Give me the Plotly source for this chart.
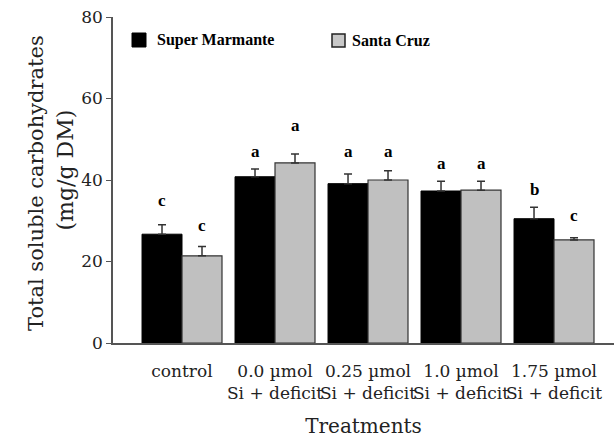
import plotly.graph_objects as go

treatments = ["control", "0.0 µmol<br>Si + deficit", "0.25 µmol<br>Si + deficit",
              "1.0 µmol<br>Si + deficit", "1.75 µmol<br>Si + deficit"]
super_marmante = [26.7, 40.8, 39.1, 37.3, 30.5]
super_marmante_err = [2.3, 1.9, 2.4, 2.4, 2.8]
santa_cruz = [21.4, 44.2, 40.0, 37.5, 25.3]
santa_cruz_err = [2.3, 2.2, 2.3, 2.2, 0.5]
letters_sm = ["c", "a", "a", "a", "b"]
letters_sc = ["c", "a", "a", "a", "c"]
letter_y_sm = [34.4, 46.4, 46.4, 43.5, 37.3]
letter_y_sc = [28.3, 52.8, 46.4, 43.5, 30.7]
y_ticks = [0, 20, 40, 60, 80]

SERIF = "DejaVu Serif"
BOLD = "Liberation Serif"
idx = list(range(len(treatments)))

fig = go.Figure()
fig.add_trace(go.Bar(
    x=idx, y=super_marmante, name="Super Marmante",
    marker=dict(color="#000000", line=dict(color="#000000", width=1)),
    error_y=dict(type="data", symmetric=False, array=super_marmante_err,
                 arrayminus=[0] * len(idx), color="#333333", thickness=1.5, width=4),
    showlegend=False,
))
fig.add_trace(go.Bar(
    x=idx, y=santa_cruz, name="Santa Cruz",
    marker=dict(color="#C0C0C0", line=dict(color="#333333", width=1.2)),
    error_y=dict(type="data", symmetric=False, array=santa_cruz_err,
                 arrayminus=[0] * len(idx), color="#333333", thickness=1.5, width=4),
    showlegend=False,
))

off = 0.215
ann = []
for i in idx:
    ann.append(dict(x=i - off, y=letter_y_sm[i], xref="x", yref="y", text="<b>%s</b>" % letters_sm[i],
                    showarrow=False, font=dict(family=BOLD, size=17, color="#000"), yshift=2))
    ann.append(dict(x=i + off, y=letter_y_sc[i], xref="x", yref="y", text="<b>%s</b>" % letters_sc[i],
                    showarrow=False, font=dict(family=BOLD, size=17, color="#000"), yshift=2))

# legend (manual)
ann.append(dict(x=155, y=40, xref="paper", yref="paper", text="<b>Super Marmante</b>",
                showarrow=False, xanchor="left", yanchor="middle",
                font=dict(family=BOLD, size=16, color="#000")))
ann.append(dict(x=350, y=40, xref="paper", yref="paper", text="<b>Santa Cruz</b>",
                showarrow=False, xanchor="left", yanchor="middle",
                font=dict(family=BOLD, size=16, color="#000")))

W, H = 614, 438
ML, MR, MT, MB = 113, 0, 17, 95
pw, ph = W - ML - MR, H - MT - MB

def px(x):
    return (x - ML) / pw

def py(y):
    return 1 - (y - MT) / ph

for a in ann:
    if a["xref"] == "paper":
        a["x"] = px(a["x"])
        a["y"] = py(a["y"])

# y title as two rotated lines
ann.append(dict(x=px(22), y=py(183), xref="paper", yref="paper", text="Total soluble carbohydrates",
                showarrow=False, textangle=-90, font=dict(family=SERIF, size=21, color="#222")))
ann.append(dict(x=px(51), y=py(170), xref="paper", yref="paper", text="(mg/g DM)",
                showarrow=False, textangle=-90, font=dict(family=SERIF, size=22, color="#222")))

shapes = [
    dict(type="rect", xref="paper", yref="paper", x0=px(132), x1=px(146), y0=py(33), y1=py(47),
         fillcolor="#000", line=dict(color="#000", width=1)),
    dict(type="rect", xref="paper", yref="paper", x0=px(332), x1=px(345), y0=py(34), y1=py(47),
         fillcolor="#C8C8C8", line=dict(color="#222", width=1.5)),
]

fig.update_layout(
    width=W, height=H,
    margin=dict(l=ML, r=MR, t=MT, b=MB, pad=0),
    plot_bgcolor="white", paper_bgcolor="white",
    barmode="group", bargap=0.14, bargroupgap=0,
    annotations=ann, shapes=shapes,
    xaxis=dict(
        range=[-0.742, 4.645], tickvals=idx, ticktext=treatments, tickangle=0,
        ticklabelstandoff=12,
        showline=True, linecolor="#555", linewidth=1.5, ticks="",
        tickfont=dict(family=SERIF, size=17, color="#222"),
        title=dict(text="Treatments", font=dict(family=SERIF, size=20, color="#222"), standoff=17),
        showgrid=False, zeroline=False, fixedrange=True, automargin=False,
    ),
    yaxis=dict(
        range=[0, 80], tickvals=y_ticks,
        showline=True, linecolor="#555", linewidth=1.5,
        ticks="outside", ticklen=5, tickcolor="#555", tickwidth=1,
        tickfont=dict(family=SERIF, size=17, color="#222"),
        showgrid=False, zeroline=False, fixedrange=True, automargin=False,
    ),
    showlegend=False,
)

fig.write_html("out.html")
